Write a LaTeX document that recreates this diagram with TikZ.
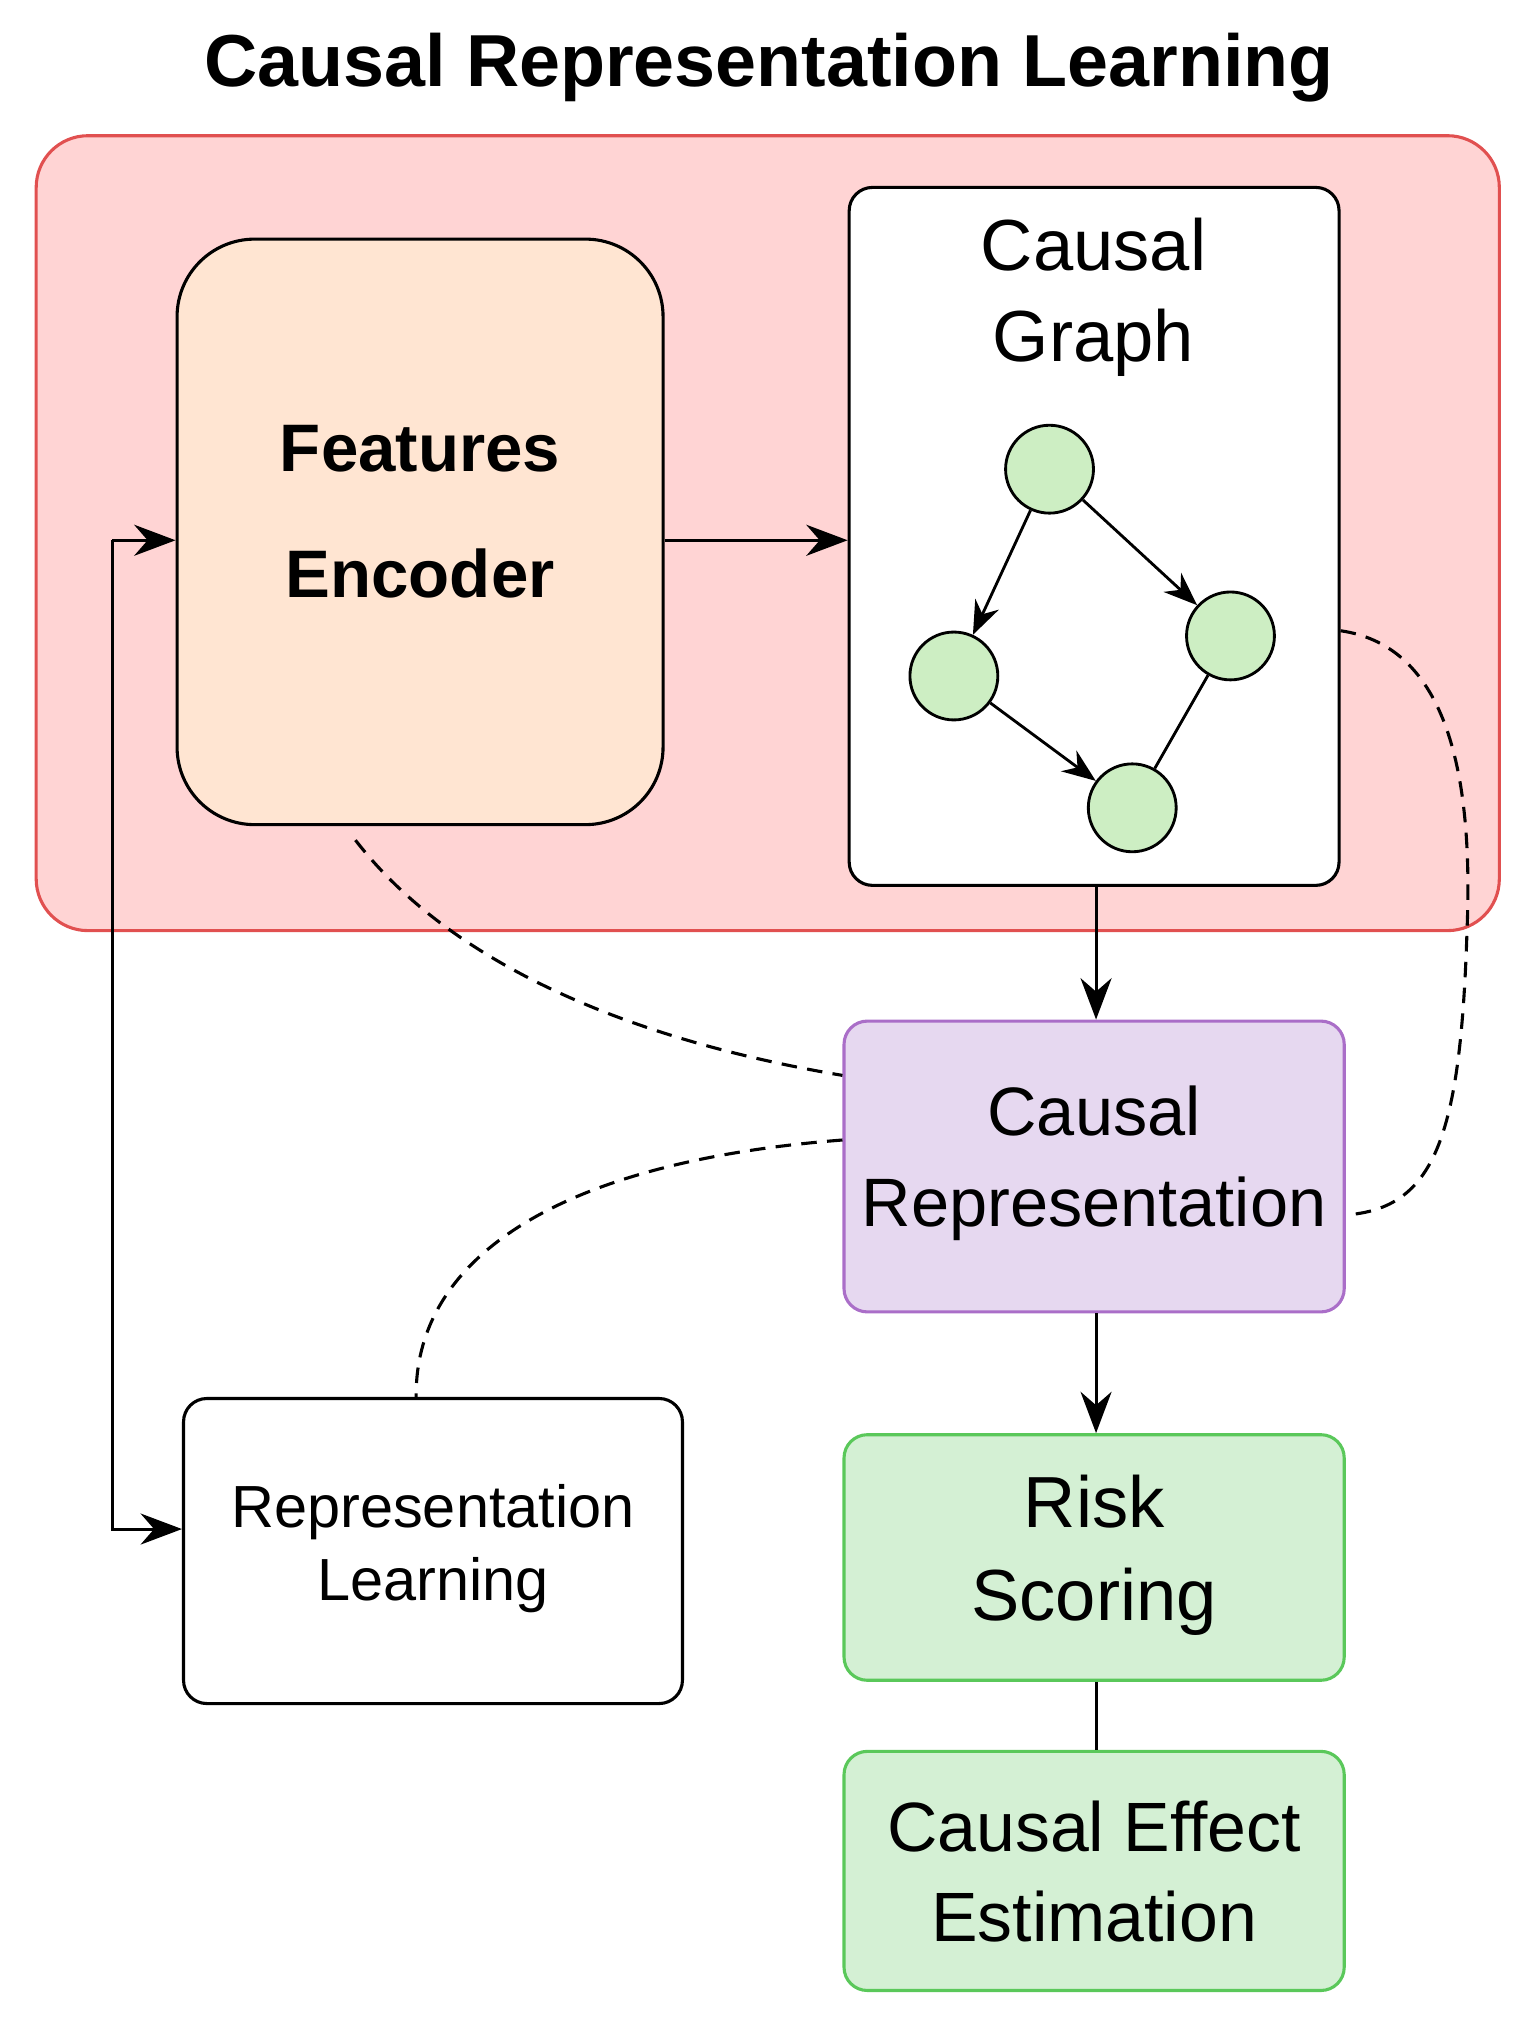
\documentclass[tikz,border=0pt]{standalone}
\usepackage{fontspec}
\setmainfont{Liberation Sans}
\usetikzlibrary{arrows.meta}
\definecolor{redbg}{RGB}{255,212,212}
\definecolor{redln}{RGB}{225,80,80}
\definecolor{peach}{RGB}{255,229,210}
\definecolor{lav}{RGB}{230,216,240}
\definecolor{purp}{RGB}{170,110,200}
\definecolor{grn}{RGB}{212,240,212}
\definecolor{grnln}{RGB}{90,200,90}
\definecolor{nodeg}{RGB}{205,238,195}
\begin{document}
\begin{tikzpicture}[x=1pt,y=-1pt,
  box/.style={draw,line width=2.4pt,rounded corners=18pt},
  gn/.style={circle,draw,line width=2.2pt,fill=nodeg,minimum size=68pt,inner sep=0},
  arr/.style={line width=2.4pt,-{Stealth[length=32pt,width=24pt]}},
  dsh/.style={line width=2.4pt,dash pattern=on 12pt off 8pt},
  txt/.style={align=center,font=\fontsize{52}{70}\selectfont}]
\useasboundingbox (0,0) rectangle (1190,1576);
\node[font=\bfseries\fontsize{57}{60}\selectfont] (title) at (595,52) {Causal Representation Learning};
\draw[box,fill=redbg,draw=redln,rounded corners=40pt] (28,105) rectangle (1160,720);
\node[box,fill=peach,rounded corners=60pt,minimum width=376pt,minimum height=453pt] (fe) at (325,411.5) {};
\node[txt,font=\bfseries\fontsize{52}{97}\selectfont] at (325,396) {Features\\Encoder};
\node[box,fill=white,minimum width=379pt,minimum height=540pt] (cg) at (846.5,415) {};
\node[txt,font=\fontsize{56}{70}\selectfont] at (846,230) {Causal\\Graph};
\node[gn] (g1) at (812,363) {};
\node[gn] (g2) at (738,523) {};
\node[gn] (g3) at (952,492) {};
\node[gn] (g4) at (876,625) {};
\draw[line width=2.2pt,-{Stealth[length=26pt,width=20pt]}] (g1) -- (g2);
\draw[line width=2.2pt,-{Stealth[length=26pt,width=20pt]}] (g1) -- (g3);
\draw[line width=2.2pt,-{Stealth[length=26pt,width=20pt]}] (g2) -- (g4);
\draw[line width=2.2pt] (g3) -- (g4);
\node[box,fill=lav,draw=purp,minimum width=387pt,minimum height=225pt] (cr) at (846.5,902.5) {};
\node[txt,font=\fontsize{53}{70}\selectfont] at (846.5,900) {Causal\\Representation};
\node[box,fill=grn,draw=grnln,minimum width=387pt,minimum height=190pt] (rs) at (846.5,1205) {};
\node[txt,font=\fontsize{56}{72}\selectfont] at (846.5,1203) {Risk\\Scoring};
\node[box,fill=grn,draw=grnln,minimum width=387pt,minimum height=185pt] (ce) at (846.5,1447.5) {};
\node[txt,font=\fontsize{54}{70}\selectfont] at (846.5,1448) {Causal Effect\\Estimation};
\node[box,fill=white,minimum width=386pt,minimum height=236pt] (rl) at (335,1200) {};
\node[txt,font=\fontsize{46}{56}\selectfont] at (335,1198) {Representation\\Learning};
\draw[arr] (fe.east |- 0,418) -- (cg.west |- 0,418);
\draw[arr] (cg.south -| 848,0) -- (cr.north -| 848,0);
\draw[arr] (cr.south -| 848,0) -- (rs.north -| 848,0);
\draw[line width=2.4pt] (rs.south -| 848,0) -- (ce.north -| 848,0);
\coordinate (lt) at (87,418);
\coordinate (lb) at (87,1183);
\draw[arr] (lt) -- (fe.west |- lt);
\draw[arr] (lt) -- (lb) -- (rl.west |- lb);
\draw[dsh] (275,650) .. controls (360,760) and (520,810) .. (cr.west |- 0,832);
\draw[dsh] (cr.west |- 0,882) .. controls (420,900) and (320,980) .. (322,1082);
\draw[dsh] (cg.east |- 0,488) .. controls (1120,500) and (1140,600) .. (1135,720) .. controls (1130,880) and (1110,935) .. (cr.east |- 0,940);
\end{tikzpicture}
\end{document}
